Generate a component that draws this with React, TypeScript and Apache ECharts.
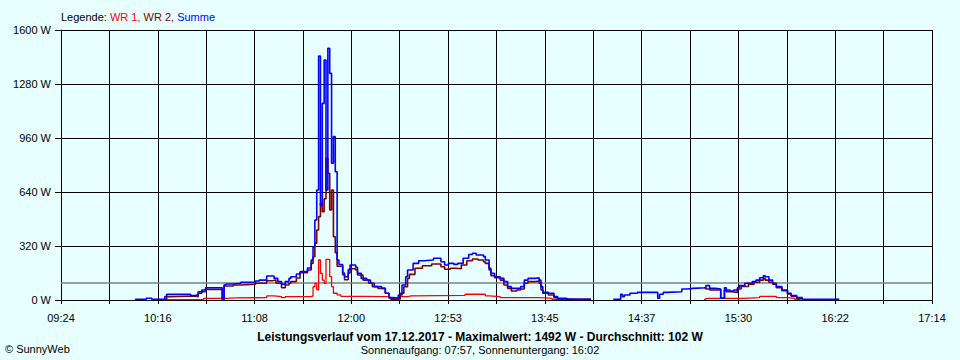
import React, { useEffect, useRef } from "react";
import * as echarts from "echarts";

// ---- Axis definitions ----
const xTickLabels = ["09:24", "10:16", "11:08", "12:00", "12:53", "13:45", "14:37", "15:30", "16:22", "17:14"];
const xDivisions = 18; // vertical grid divisions (labels on every second)
const axisSpanMinutes = 470; // 09:24 -> 17:14
const yMax = 1600;
const yInterval = 320;
const averageW = 102;

// ---- Series data (time, watts) ----
const summeTimes = ["10:04","10:10","10:13","10:20","10:21","10:34","10:36","10:38","10:40","10:42","10:51","10:52","10:53","10:57","11:01","11:09","11:11","11:15","11:18","11:19","11:21","11:23","11:25","11:27","11:28","11:31","11:33","11:37","11:39","11:40","11:41","11:42","11:43","11:44","11:45","11:46","11:47","11:48","11:49","11:50","11:51","11:52","11:53","11:54","11:56","11:57","11:59","12:00","12:03","12:04","12:06","12:09","12:11","12:13","12:17","12:19","12:21","12:23","12:26","12:28","12:30","12:31","12:34","12:37","12:40","12:45","12:49","12:51","12:53","12:56","12:58","13:01","13:04","13:06","13:08","13:12","13:13","13:15","13:16","13:18","13:21","13:23","13:25","13:27","13:30","13:32","13:34","13:36","13:40","13:42","13:43","13:44","13:47","13:50","13:52","13:57","14:03","14:10","14:22","14:26","14:27","14:28","14:31","14:35","14:46","14:47","14:49","14:51","14:59","15:02","15:05","15:12","15:14","15:17","15:20","15:22","15:23","15:25","15:27","15:29","15:30","15:33","15:37","15:39","15:41","15:43","15:44","15:46","15:48","15:50","15:53","15:56","15:58","16:01","16:04","16:24"];
const summeValues = [4,10,4,20,34,26,30,40,59,73,4,89,95,99,105,113,118,142,142,128,109,93,109,128,138,154,168,190,237,316,474,652,1446,560,1165,1422,652,1492,1343,810,968,760,237,210,160,138,180,207,194,158,128,118,99,79,69,40,14,12,30,89,138,178,217,233,237,247,227,207,217,211,217,247,270,277,267,257,237,188,158,138,128,109,79,69,69,79,118,128,132,118,79,45,40,20,10,4,4,null,4,34,20,30,40,45,10,34,45,49,65,69,73,85,69,65,10,73,59,53,59,73,85,99,109,118,132,144,138,118,99,79,59,40,26,14,4,4];

const wr2Times = ["10:20","10:21","10:23","10:36","10:38","10:42","10:51","10:52","10:57","11:01","11:09","11:15","11:18","11:20","11:23","11:25","11:27","11:28","11:31","11:33","11:37","11:39","11:40","11:41","11:42","11:43","11:44","11:45","11:46","11:47","11:48","11:49","11:50","11:51","11:52","11:53","11:56","11:57","11:59","12:00","12:03","12:04","12:07","12:10","12:12","12:15","12:19","12:21","12:22","12:27","12:29","12:31","12:32","12:35","12:39","12:44","12:49","12:51","12:54","12:57","13:00","13:03","13:06","13:09","13:12","13:13","13:15","13:16","13:18","13:21","13:23","13:25","13:27","13:30","13:32","13:34","13:36","13:40","13:42","13:43","13:44","13:47","13:50","13:52","13:57","14:03","14:10","15:11","15:12","15:14","15:20","15:22","15:23","15:26","15:29","15:31","15:35","15:38","15:41","15:43","15:44","15:46","15:48","15:50","15:53","15:56","15:58","16:01","16:04"];
const wr2Values = [4,20,24,20,49,63,4,83,89,93,99,114,118,99,73,89,99,109,130,162,178,217,257,336,415,494,575,523,600,840,751,533,652,375,280,200,150,120,160,185,178,148,118,99,79,69,40,14,4,40,79,128,152,188,203,213,197,182,188,185,207,233,243,237,227,217,178,144,132,118,89,69,53,59,65,99,109,113,99,59,40,30,14,5,4,4,null,73,65,59,10,59,49,45,65,80,93,105,118,128,118,105,93,73,55,36,22,8,4];

const wr1Times = ["10:20","10:41","10:53","10:58","11:15","11:19","11:23","11:25","11:39","11:40","11:41","11:42","11:43","11:44","11:45","11:46","11:47","11:48","11:49","11:50","11:51","11:53","11:55","12:06","12:21","12:27","12:31","12:33","13:02","13:13","13:15","13:21","13:43","13:49","13:53","14:00","15:11","15:12","15:32","15:41","15:50","15:56","16:00","16:03"];
const wr1Values = [2,10,12,14,24,20,14,20,24,79,99,60,237,158,118,99,241,241,138,79,40,30,22,20,10,20,24,28,34,24,20,14,10,4,4,null,4,10,14,22,14,10,4,4];

const seriesNames = ["WR 1", "WR 2", "Summe"];
const seriesColors = ["#ff0000", "#800000", "#0000ff"];

const axisStartMinutes = (() => {
  const [h, m] = xTickLabels[0].split(":").map(Number);
  return h * 60 + m;
})();

function toX(t: string): number {
  const [h, m] = t.split(":").map(Number);
  return h * 60 + m - axisStartMinutes;
}

function pairs(times: string[], values: (number | null)[]) {
  return times.map((t, i) => [toX(t), values[i] === null ? "-" : values[i]]);
}

const FONT = "'Liberation Sans', Arial, sans-serif";

export default function App() {
  const ref = useRef<HTMLDivElement>(null);

  useEffect(() => {
    if (!ref.current) return;
    const chart = echarts.init(ref.current, undefined, { renderer: "svg" });
    const xInterval = axisSpanMinutes / xDivisions;

    const lineSeries = (idx: number, data: any[], width: number, extra: any = {}) => ({
      type: "line",
      name: seriesNames[idx],
      data,
      step: "end",
      showSymbol: false,
      symbol: "none",
      connectNulls: false,
      lineStyle: { color: seriesColors[idx], width },
      itemStyle: { color: seriesColors[idx] },
      z: 3 + idx,
      ...extra,
    });

    chart.setOption({
      animation: false,
      backgroundColor: "#e8ffff",
      textStyle: { fontFamily: FONT },
      grid: { left: 61, right: 28, top: 30, bottom: 60, containLabel: false },
      xAxis: {
        type: "value",
        min: 0,
        max: axisSpanMinutes,
        interval: xInterval,
        axisLine: { show: true, onZero: false, lineStyle: { color: "#000", width: 1 } },
        axisTick: { show: true, length: 4, lineStyle: { color: "#000", width: 1 } },
        axisLabel: {
          color: "#000",
          fontSize: 11,
          fontFamily: FONT,
          margin: 12,
          showMinLabel: true,
          showMaxLabel: true,
          formatter: (v: number) => {
            const idx = Math.round(v / xInterval);
            return idx % 2 === 0 ? xTickLabels[idx / 2] ?? "" : "";
          },
        },
        splitLine: { show: true, lineStyle: { color: "#000", width: 1 } },
      },
      yAxis: {
        type: "value",
        min: 0,
        max: yMax,
        interval: yInterval,
        axisLine: { show: true, lineStyle: { color: "#000", width: 1 } },
        axisTick: { show: true, length: 6, lineStyle: { color: "#000", width: 1 } },
        axisLabel: {
          color: "#000",
          fontSize: 11,
          fontFamily: FONT,
          margin: 10,
          formatter: (v: number) => `${v} W`,
        },
        splitLine: { show: true, lineStyle: { color: "#000", width: 1 } },
      },
      series: [
        lineSeries(0, pairs(wr1Times, wr1Values), 1.3, {
          markLine: {
            silent: true,
            symbol: "none",
            label: { show: false },
            lineStyle: { color: "#808080", width: 1.5, type: "solid" },
            data: [{ yAxis: averageW }],
            z: 2,
          },
        }),
        lineSeries(1, pairs(wr2Times, wr2Values), 1.6),
        lineSeries(2, pairs(summeTimes, summeValues), 1.6),
      ],
      graphic: [
        {
          type: "text",
          left: 61,
          top: 11,
          style: {
            text: "{k|Legende: }{a|WR 1, }{b|WR 2, }{c|Summe}",
            font: `11px ${FONT}`,
            rich: {
              k: { fill: "#000", fontSize: 11, fontFamily: FONT },
              a: { fill: seriesColors[0], fontSize: 11, fontFamily: FONT },
              b: { fill: seriesColors[1], fontSize: 11, fontFamily: FONT },
              c: { fill: seriesColors[2], fontSize: 11, fontFamily: FONT },
            },
          },
        },
        {
          type: "text",
          x: 480,
          y: 337,
          style: {
            text: `Leistungsverlauf vom 17.12.2017 - Maximalwert: 1492 W - Durchschnitt: ${averageW} W`,
            fill: "#000",
            font: `bold 12px ${FONT}`,
            align: "center",
            verticalAlign: "middle",
          },
        },
        {
          type: "text",
          x: 480,
          y: 350,
          style: {
            text: "Sonnenaufgang: 07:57, Sonnenuntergang: 16:02",
            fill: "#000",
            font: `11px ${FONT}`,
            align: "center",
            verticalAlign: "middle",
          },
        },
        {
          type: "text",
          x: 5,
          y: 349,
          style: {
            text: "© SunnyWeb",
            fill: "#000",
            font: `11px ${FONT}`,
            align: "left",
            verticalAlign: "middle",
          },
        },
      ],
    });

    return () => chart.dispose();
  }, []);

  return (
    <div
      ref={ref}
      style={{ position: "fixed", left: 0, top: 0, width: 960, height: 360 }}
    />
  );
}
